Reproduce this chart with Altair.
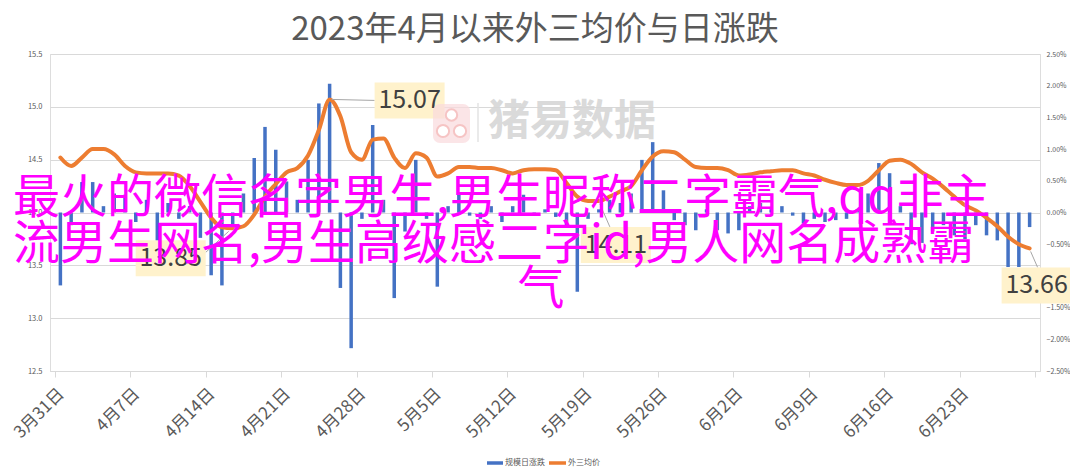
import json
import altair as alt
import pandas as pd

FONT = "Noto Sans CJK SC"

# ---------------- data ----------------
title_text = "2023年4月以来外三均价与日涨跌"
series_names = ["规模日涨跌", "外三均价"]
tick_labels = ["3月31日", "4月7日", "4月14日", "4月21日", "4月28日", "5月5日", "5月12日",
               "5月19日", "5月26日", "6月2日", "6月9日", "6月16日", "6月23日"]
left_ticks = [12.5, 13.0, 13.5, 14.0, 14.5, 15.0, 15.5]
right_ticks = [-0.025, -0.02, -0.015, -0.01, -0.005, 0.0, 0.005, 0.01, 0.015, 0.02, 0.025]

# day index 0 = 3月31日 (daily data to 6月29日)
days = list(range(91))
price = [14.52, 14.44, 14.52, 14.60, 14.60, 14.55, 14.44, 14.38, 14.37, 14.37,
         14.37, 14.35, 14.25, 14.10, 13.95, 13.86, 13.85, 13.87, 13.98, 14.15,
         14.27, 14.38, 14.42, 14.54, 14.78, 15.07, 14.91, 14.57, 14.50, 14.69,
         14.70, 14.52, 14.42, 14.56, 14.52, 14.34, 14.37, 14.43, 14.43, 14.42,
         14.42, 14.40, 14.37, 14.40, 14.41, 14.41, 14.40, 14.28, 14.15, 14.11,
         14.11, 14.15, 14.20, 14.25, 14.40, 14.53, 14.58, 14.57, 14.50, 14.43,
         14.42, 14.42, 14.40, 14.35, 14.36, 14.38, 14.39, 14.40, 14.40, 14.37,
         14.35, 14.31, 14.28, 14.26, 14.26, 14.30, 14.40, 14.49, 14.50, 14.46,
         14.38, 14.32, 14.24, 14.15, 14.07, 14.02, 13.95, 13.87, 13.77, 13.70,
         13.66]
pct = [-1.15, -0.20, 0.48, 0.48, 0.10, 0.30, 0.28, -0.15, 0.20, -0.80,
       0.15, -0.10, 0.10, -0.40, -0.99, -1.15, -0.20, 0.30, 0.86, 1.35,
       0.99, 0.49, 0.20, 0.83, 1.72, 2.03, -1.19, -2.14, -0.10, 1.38,
       0.20, -1.35, -0.30, 0.83, -0.10, -1.17, 0.10, 0.30, -0.05, -0.10,
       0.10, -0.15, 0.10, 0.28, -0.05, 0.05, -0.07, -0.20, -1.25, -0.10,
       0.05, 0.20, 0.15, 0.30, 0.83, 1.11, 0.35, -0.12, -0.20, -0.28,
       0.05, -0.28, -0.33, -0.28, 0.10, 0.15, 0.05, 0.10, -0.05, -0.17,
       -0.10, -0.15, -0.12, -0.10, 0.05, 0.30, 0.78, 0.62, 0.10, -0.50,
       -0.48, -0.30, -0.20, -0.36, -0.42, -0.20, -0.36, -0.44, -0.86, -0.86,
       -0.23]

callout_days = [25, 16, 50, 90]

overlay_lines = ["最火的微信名字男生,男生昵称二字霸气,qq非主",
                 "流男生网名,男生高级感二字id,男人网名成熟霸",
                 "气"]
watermark = "猪易数据"

# ---------------- frames ----------------
df = pd.DataFrame({"day": days, "price": price, "pct": [p / 100 for p in pct]})
df["xpos"] = df["day"] + 0.5

GRID = "#D9D9D9"
TXT = "#595959"
BLUE = "#4472C4"
ORANGE = "#ED7D31"

label_expr = ("datum.value < 91 ? " + json.dumps(tick_labels, ensure_ascii=False)
              + "[round(datum.value / 7)] : ''")

x_scale = alt.Scale(domain=[0, 91], nice=False, zero=False)
x_axis = alt.Axis(values=list(range(0, 92, 7)), labelExpr=label_expr, labelAngle=-45,
                  labelAlign="right", labelBaseline="middle", labelFontSize=17,
                  labelFont=FONT, labelColor=TXT, labelPadding=14, labelOffset=6,
                  labelOverlap=False, labelBound=False, labelFlush=False,
                  tickSize=6, tickColor=GRID, domainColor=GRID, grid=False, title=None)
x_enc = alt.X("xpos:Q", scale=x_scale, axis=x_axis)
x_plain = alt.X("xpos:Q", scale=x_scale)

bars = alt.Chart(df).mark_bar(size=3.5, color=BLUE).encode(
    x=x_enc,
    y=alt.Y("pct:Q", scale=alt.Scale(domain=[-0.025, 0.025], nice=False, zero=False),
            axis=alt.Axis(orient="right", values=right_ticks, format=".2%", grid=False,
                          domain=False, ticks=False, labelFontSize=7, labelFont=FONT,
                          labelColor=TXT, labelPadding=6, title=None)),
)

y_left = alt.Y("price:Q", scale=alt.Scale(domain=[12.5, 15.5], nice=False, zero=False),
               axis=alt.Axis(orient="left", values=left_ticks, grid=True, gridColor=GRID,
                             domain=False, ticks=False, labelFontSize=7.5, labelFont=FONT,
                             labelColor=TXT, labelPadding=8, title=None))

line = alt.Chart(df).mark_line(color=ORANGE, strokeWidth=4, interpolate="monotone",
                               strokeCap="round", strokeJoin="round").encode(x=x_plain, y=y_left)

# callouts: (offset of box centre from point, leader path)
callout_style = [
    ((80, 1), "M2,0L45,1"),
    ((-62, 30), "M-4,3L-27,24"),
    ((17, 44), "M1,3L11,26"),
    ((7, 37), "M1,3L8,19"),
]
callout_layers = []
for d, ((ox, oy), lead) in zip(callout_days, callout_style):
    sub = df[df["day"] == d].copy()
    sub["label"] = sub["price"].map(lambda v: f"{v:.2f}")
    base = alt.Chart(sub).encode(x=x_plain, y=alt.Y("price:Q"))
    callout_layers.append(base.mark_point(shape=lead, size=4, filled=False, stroke="#A6A6A6",
                                          strokeWidth=1, opacity=1))
    box = f"M{ox - 35},{oy - 18}h70v36h-70z"
    callout_layers.append(base.mark_point(shape=box, size=4, filled=True, fill="#FFF2CC",
                                          strokeWidth=0, opacity=1))
    callout_layers.append(base.mark_text(dx=ox, dy=oy, align="center", baseline="middle",
                                         fontSize=25, font=FONT, color="#404040").encode(text="label:N"))

one = alt.Data(values=[{}])

# chart title as a fixed text mark above the plot
title_mark = alt.Chart(one).mark_text(text=title_text, fontSize=33, font=FONT, color=TXT,
                                      align="center", baseline="alphabetic").encode(
    x=alt.value(485), y=alt.value(-14))

# watermark
wm_logo = alt.Chart(one).mark_rect(fill="#FADADD", cornerRadius=7, opacity=0.7).encode(
    x=alt.value(383), x2=alt.value(420), y=alt.value(50), y2=alt.value(89))
wm_dots = [
    alt.Chart(one).mark_point(shape="circle", filled=True, fill="#FFFFFF", stroke="#F6C4C4",
                              strokeWidth=2, size=130, opacity=1).encode(x=alt.value(401.5), y=alt.value(61)),
    alt.Chart(one).mark_point(shape="circle", filled=True, fill="#FFFFFF", stroke="#F6C4C4",
                              strokeWidth=2, size=150, opacity=1).encode(x=alt.value(393), y=alt.value(77)),
    alt.Chart(one).mark_point(shape="circle", filled=True, fill="#FFFFFF", stroke="#F6C4C4",
                              strokeWidth=2, size=150, opacity=1).encode(x=alt.value(410), y=alt.value(77)),
]
wm_sep = alt.Chart(one).mark_rule(color="#E3E3E3", strokeWidth=1.5).encode(
    x=alt.value(428), y=alt.value(49), y2=alt.value(88))
wm_text = alt.Chart(one).mark_text(text=watermark, fontSize=42, font=FONT, fontWeight="bold",
                                   color="#D6D6D6", opacity=0.9, align="center",
                                   baseline="middle").encode(x=alt.value(522), y=alt.value(68))

# manual legend
leg = [
    alt.Chart(one).mark_rule(color=BLUE, strokeWidth=3.5).encode(
        x=alt.value(437), x2=alt.value(453), y=alt.value(409)),
    alt.Chart(one).mark_text(text=series_names[0], fontSize=8, font=FONT, color=TXT,
                             align="left", baseline="middle").encode(x=alt.value(455), y=alt.value(409)),
    alt.Chart(one).mark_rule(color=ORANGE, strokeWidth=3.5).encode(
        x=alt.value(499), x2=alt.value(516), y=alt.value(409)),
    alt.Chart(one).mark_text(text=series_names[1], fontSize=8, font=FONT, color=TXT,
                             align="left", baseline="middle").encode(x=alt.value(518), y=alt.value(409)),
]

# overlay text
ov = [
    alt.Chart(one).mark_text(text=overlay_lines[0], fontSize=47, font=FONT, color="#FF00FF",
                             align="left", baseline="alphabetic").encode(x=alt.value(-37), y=alt.value(159)),
    alt.Chart(one).mark_text(text=overlay_lines[1], fontSize=47, font=FONT, color="#FF00FF",
                             align="left", baseline="alphabetic").encode(x=alt.value(-37), y=alt.value(205)),
    alt.Chart(one).mark_text(text=overlay_lines[2], fontSize=47, font=FONT, color="#FF00FF",
                             align="center", baseline="alphabetic").encode(x=alt.value(491), y=alt.value(250)),
]

inner = alt.layer(line, *callout_layers, title_mark, wm_logo, *wm_dots, wm_sep, wm_text, *leg, *ov)

chart = alt.layer(bars, inner).resolve_scale(y="independent").properties(
    width=990, height=317,
    autosize=alt.AutoSizeParams(type="none"),
    padding={"left": 42, "top": 46, "right": 30, "bottom": 100},
).configure_view(stroke=None).configure(background="#FFFFFF")

chart.save("out.html", embed_options={"renderer": "svg", "actions": False})
